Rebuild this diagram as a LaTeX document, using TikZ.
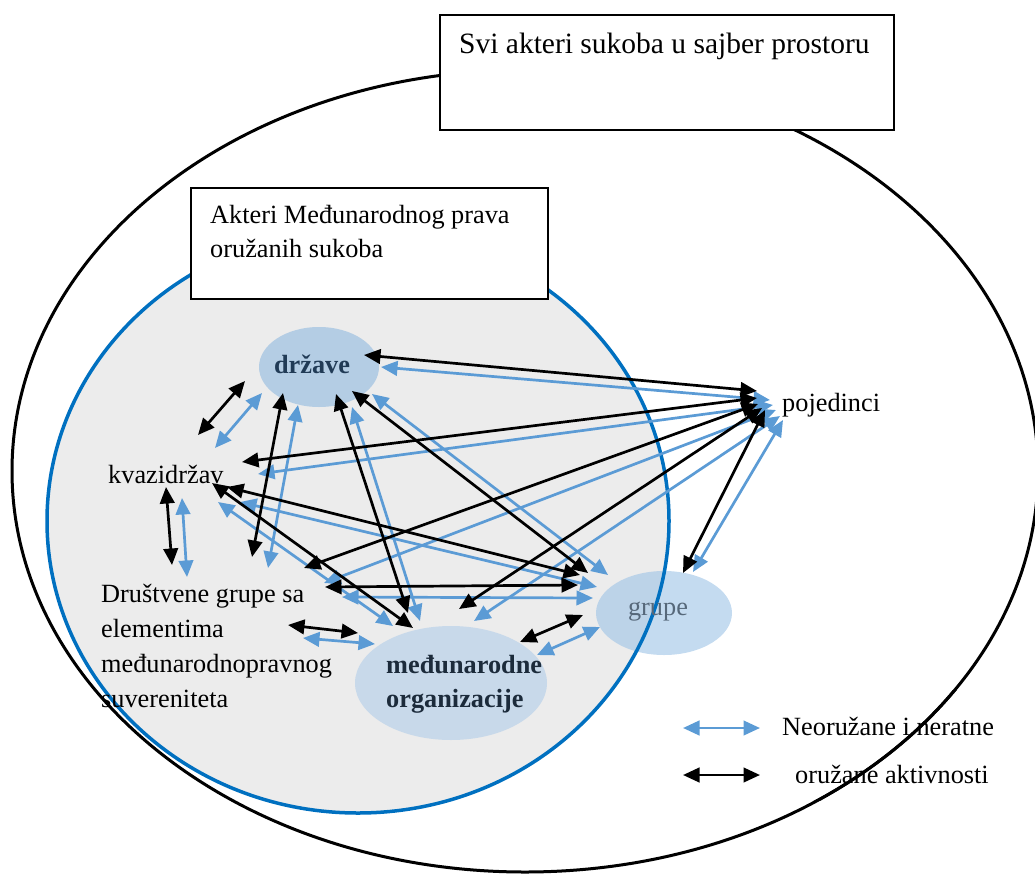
\documentclass[tikz,border=0pt]{standalone}
\usepackage{fontspec}
\setmainfont{Liberation Serif}
\usetikzlibrary{arrows.meta}
\definecolor{ringblue}{HTML}{0070C0}
\definecolor{lineblue}{HTML}{5B9BD5}
\definecolor{zonegrey}{HTML}{ECECEC}
\definecolor{stateblue}{HTML}{B4CDE4}
\definecolor{orgblue}{HTML}{C8D9EA}
\definecolor{groupblue}{HTML}{9DC3E6}
\definecolor{statetext}{HTML}{213B56}
\definecolor{orgtext}{HTML}{1C2B3B}
\definecolor{grouptext}{HTML}{56687A}
\begin{document}
\begin{tikzpicture}[x=1pt,y=-1pt,
  conn/.style={line width=2.7pt,
    {Triangle[length=16.5pt,width=14.5pt]}-{Triangle[length=16.5pt,width=14.5pt]}},
  armed/.style={conn,draw=black},
  unarmed/.style={conn,draw=lineblue},
  txt/.style={font=\fontsize{26.3}{34}\selectfont,inner sep=0pt,anchor=base west},
  labelbox/.style={draw=black,line width=1.8pt,fill=white,anchor=north west,inner sep=0pt}]
\useasboundingbox (0,0) rectangle (1035,875);

% outer ring: every actor in cyberspace
\draw[line width=3pt] (525,471) ellipse [x radius=513,y radius=401];

% inner zone: actors of the law of armed conflict
\fill[zonegrey] (358,521) ellipse [x radius=311,y radius=292];
\fill[groupblue,opacity=0.6] (664,613) ellipse [x radius=68,y radius=42];
\draw[ringblue,line width=3.5pt] (358,521) ellipse [x radius=311,y radius=292];
\fill[stateblue] (319,367) ellipse [x radius=60,y radius=40];
\fill[orgblue] (451,683) ellipse [x radius=96,y radius=57];

% actor labels
\node[font=\fontsize{26.3}{34}\selectfont\bfseries,text=statetext,inner sep=0pt] (drz) at (312,364) {države};
\node[font=\fontsize{26.3}{34}\selectfont,text=grouptext,inner sep=0pt,anchor=base] (grp) at (658,615) {grupe};
\node[txt,font=\fontsize{26.3}{34}\selectfont\bfseries,text=orgtext] (mo1) at (386,673) {međunarodne};
\node[txt,font=\fontsize{26.3}{34}\selectfont\bfseries,text=orgtext] (mo2) at (386,707) {organizacije};
\node[txt] (kvaz) at (108,483) {kvazidržav};
\node[txt] (dru1) at (101,602) {Društvene grupe sa};
\node[txt] (dru2) at (101,637) {elementima};
\node[txt] (dru3) at (101,672) {međunarodnopravnog};
\node[txt] (dru4) at (101,707) {suvereniteta};
\node[txt] (poj) at (782,411) {pojedinci};

% connector end points
\coordinate (b1a) at (245,381); \coordinate (b1b) at (198,435);
\coordinate (b2a) at (283,393); \coordinate (b2b) at (252,557);
\coordinate (b3a) at (336,394); \coordinate (b3b) at (408,613);
\coordinate (b4a) at (352,391); \coordinate (b4b) at (588,573);
\coordinate (b5a) at (364,355); \coordinate (b5b) at (757,391);
\coordinate (b6a) at (242,462); \coordinate (b6b) at (757,398);
\coordinate (b7a) at (227,487); \coordinate (b7b) at (580,575);
\coordinate (b8a) at (212,483); \coordinate (b8b) at (413,628);
\coordinate (b9a) at (166,487); \coordinate (b9b) at (172,565);
\coordinate (b10a) at (304,568); \coordinate (b10b) at (758,404);
\coordinate (b11a) at (325,587); \coordinate (b11b) at (578,585);
\coordinate (b12a) at (288,625); \coordinate (b12b) at (358,633);
\coordinate (b13a) at (520,642); \coordinate (b13b) at (583,615);
\coordinate (b14a) at (459,609); \coordinate (b14b) at (762,408);
\coordinate (b15a) at (683,573); \coordinate (b15b) at (765,410);

\coordinate (u1a) at (262,393); \coordinate (u1b) at (215,448);
\coordinate (u2a) at (298,405); \coordinate (u2b) at (268,568);
\coordinate (u3a) at (352,407); \coordinate (u3b) at (420,621);
\coordinate (u4a) at (372,394); \coordinate (u4b) at (608,575);
\coordinate (u5a) at (381,367); \coordinate (u5b) at (770,400);
\coordinate (u6a) at (258,474); \coordinate (u6b) at (773,405);
\coordinate (u7a) at (240,502); \coordinate (u7b) at (597,587);
\coordinate (u8a) at (218,502); \coordinate (u8b) at (393,626);
\coordinate (u9a) at (182,498); \coordinate (u9b) at (187,577);
\coordinate (u10a) at (324,583); \coordinate (u10b) at (776,410);
\coordinate (u11a) at (342,597); \coordinate (u11b) at (593,598);
\coordinate (u12a) at (303,638); \coordinate (u12b) at (375,644);
\coordinate (u13a) at (537,655); \coordinate (u13b) at (600,627);
\coordinate (u14a) at (474,621); \coordinate (u14b) at (780,416);
\coordinate (u15a) at (693,572); \coordinate (u15b) at (783,420);

% non-armed relations
\foreach \i in {1,...,15} \draw[unarmed] (u\i a) -- (u\i b);
% armed relations
\foreach \i in {1,...,15} \draw[armed] (b\i a) -- (b\i b);

% title boxes
\node[labelbox,minimum width=454pt,minimum height=115pt] (allbox) at (439,14) {};
\node[txt,font=\fontsize{29.5}{36}\selectfont] (all) at (459,53) {Svi akteri sukoba u sajber prostoru};
\node[labelbox,minimum width=357pt,minimum height=111pt] (ihlbox) at (190,187) {};
\node[txt] (ihl1) at (210,223) {Akteri Međunarodnog prava};
\node[txt] (ihl2) at (210,257) {oružanih sukoba};

% legend
\coordinate (lu1) at (683,728); \coordinate (lu2) at (760,728);
\coordinate (la1) at (683,775); \coordinate (la2) at (760,775);
\draw[unarmed] (lu1) -- (lu2);
\draw[armed] (la1) -- (la2);
\node[txt] (legu) at (782,735) {Neoružane i neratne};
\node[txt] (lega) at (795,783) {oružane aktivnosti};

% outer ring passes over the legend text
\begin{scope}
\clip (660,690) rectangle (1035,800);
\draw[line width=3pt] (525,471) ellipse [x radius=513,y radius=401];
\end{scope}
\end{tikzpicture}
\end{document}
